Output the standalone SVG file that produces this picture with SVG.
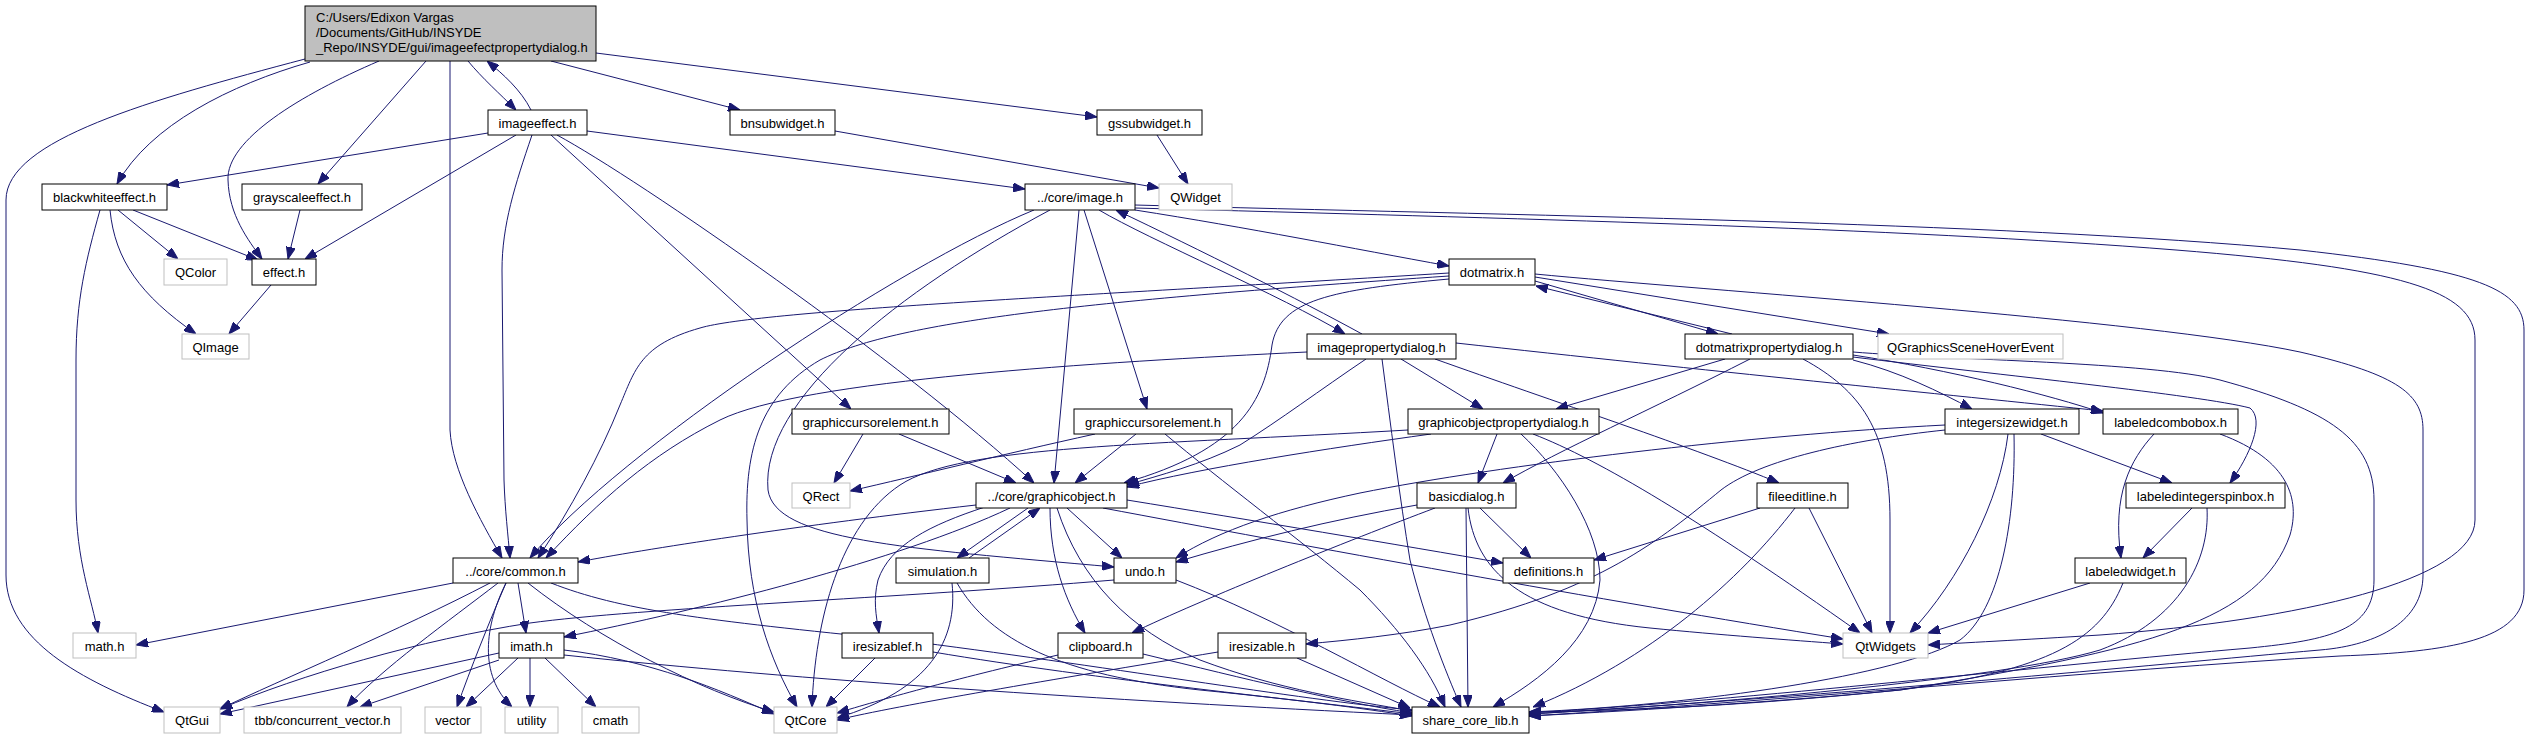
<svg xmlns="http://www.w3.org/2000/svg" width="2531" height="739" viewBox="0 0 2531 739">
<style>
.n rect{fill:#fff;stroke:#000;stroke-width:1}
.x rect{fill:#fff;stroke:#bfbfbf;stroke-width:1}
.r rect{fill:#bfbfbf;stroke:#000;stroke-width:1}
text{font-family:"Liberation Sans",Arial,Helvetica,sans-serif;font-size:13px;fill:#000}
.c{text-anchor:middle}
#edges path{fill:none;stroke:#191970;stroke-width:1;marker-end:url(#a)}
</style>
<defs>
<marker id="a" viewBox="0 0 12 9" refX="12" refY="4.5" markerWidth="12" markerHeight="9" markerUnits="userSpaceOnUse" orient="auto"><path d="M0,0 L12,4.5 L0,9 z" fill="#191970" stroke="#191970" stroke-width="1"/></marker>
</defs>
<rect width="2531" height="739" fill="#fff"/>
<g id="edges">
<path d="M468,61 C482,78 500,94 516,110"/>
<path d="M531,110 C521,90 503,74 487,61"/>
<path d="M310,62 C230,85 150,125 117,184"/>
<path d="M379,61 C300,95 226,140 228,180 C229,215 248,240 262,259"/>
<path d="M426,61 L318,184"/>
<path d="M450,61 L450,430 C452,470 480,520 502,558"/>
<path d="M551,61 L740,110"/>
<path d="M596,53 L1097,117"/>
<path d="M305,59 C150,100 6,140 6,200 L6,575 C6,640 80,680 164,712"/>
<path d="M835,131 L1159,188"/>
<path d="M1157,135 L1188,184"/>
<path d="M488,133 L167,185"/>
<path d="M516,135 L305,259"/>
<path d="M532,135 C515,185 502,225 502,270 L504,480 C505,510 508,535 510,558"/>
<path d="M551,135 L851,409"/>
<path d="M557,135 C640,180 900,360 1034,483"/>
<path d="M587,131 L1025,189"/>
<path d="M100,210 C86,260 76,300 76,360 L76,500 C76,560 92,600 98,633"/>
<path d="M110,210 C115,260 140,295 196,334"/>
<path d="M118,210 L178,259"/>
<path d="M133,210 L258,260"/>
<path d="M300,210 L288,259"/>
<path d="M271,285 L229,334"/>
<path d="M1135,210 C1250,228 1350,248 1449,266"/>
<path d="M1034,210 C900,265 620,450 530,558"/>
<path d="M1050,210 C900,290 760,400 768,490 C775,540 900,548 1114,567"/>
<path d="M1079,210 L1054,483"/>
<path d="M1084,210 L1147,409"/>
<path d="M1099,210 C1150,240 1280,295 1345,334"/>
<path d="M1362,334 C1300,300 1200,250 1116,210"/>
<path d="M1135,205 C1500,215 2000,222 2300,250 C2480,270 2524,290 2524,330 L2524,590 C2524,640 2450,652 2340,656 C2100,670 1800,700 1529,716"/>
<path d="M1135,208 C1500,218 1900,228 2176,250 C2400,268 2475,290 2475,340 L2475,520 C2475,580 2300,620 2100,635 C2020,640 1960,643 1928,645"/>
<path d="M1535,281 L1718,334"/>
<path d="M1732,334 L1536,286"/>
<path d="M1535,277 L1889,334"/>
<path d="M1535,274 C1700,290 2150,320 2300,352 C2400,375 2423,395 2423,430 L2423,575 C2423,620 2380,645 2320,650 C2150,665 1850,695 1529,714"/>
<path d="M1449,273 C1100,295 760,310 700,328 C640,345 635,370 620,405 C600,455 570,510 538,558"/>
<path d="M1449,276 C1100,300 900,320 820,360 C760,395 745,450 747,520 C748,600 770,660 797,707"/>
<path d="M1449,279 C1330,290 1280,300 1272,345 C1265,400 1240,450 1124,483"/>
<path d="M1307,352 C1100,362 800,380 720,420 C650,455 600,500 546,558"/>
<path d="M1366,359 C1320,390 1280,420 1240,445 C1200,465 1160,475 1127,485"/>
<path d="M1382,359 C1390,420 1400,500 1410,560 C1425,620 1445,670 1461,707"/>
<path d="M1401,359 L1483,409"/>
<path d="M1435,359 C1550,400 1700,450 1779,483"/>
<path d="M1456,343 C1700,370 1950,395 2103,411"/>
<path d="M1725,359 L1556,409"/>
<path d="M1750,359 C1650,410 1560,450 1503,483"/>
<path d="M1803,359 C1860,390 1890,430 1890,520 L1890,633"/>
<path d="M1853,352 C1950,360 2150,362 2220,380 C2330,410 2374,440 2374,500 L2374,580 C2374,630 2330,640 2250,648 C2050,665 1750,700 1529,713"/>
<path d="M1853,355 C1950,370 2050,395 2103,413"/>
<path d="M1853,360 C1900,372 1940,392 1972,409"/>
<path d="M1853,357 C2000,375 2200,395 2250,408 C2265,420 2250,455 2230,483"/>
<path d="M2041,434 L2172,483"/>
<path d="M2008,434 C2000,500 1960,580 1910,633"/>
<path d="M2014,434 C2016,520 2000,610 1960,640 C1900,675 1700,705 1529,712"/>
<path d="M1945,425 C1750,435 1500,465 1360,493 C1280,510 1220,530 1176,558"/>
<path d="M1945,430 C1850,440 1760,460 1721,490 C1660,540 1600,590 1450,625 C1400,635 1350,640 1306,644"/>
<path d="M2154,434 C2130,460 2112,495 2121,558"/>
<path d="M2220,434 C2290,460 2300,500 2290,535 C2260,620 2150,650 1900,690 C1800,700 1650,710 1529,716"/>
<path d="M2192,508 L2143,558"/>
<path d="M2207,508 C2210,560 2180,620 2100,650 C2000,680 1700,705 1529,714"/>
<path d="M2090,583 L1928,633"/>
<path d="M2123,583 C2100,640 2050,670 1900,690 C1750,705 1650,710 1529,712"/>
<path d="M1760,508 L1594,560"/>
<path d="M1795,508 C1740,580 1650,660 1533,707"/>
<path d="M1809,508 L1872,633"/>
<path d="M1480,508 L1531,558"/>
<path d="M1466,508 L1468,707"/>
<path d="M1468,508 C1475,570 1520,615 1650,628 C1720,635 1790,640 1843,644"/>
<path d="M1417,505 C1330,520 1250,540 1176,562"/>
<path d="M1435,508 C1350,540 1200,600 1132,633"/>
<path d="M1497,434 L1478,483"/>
<path d="M1521,434 C1560,470 1600,530 1600,580 C1595,640 1540,680 1493,707"/>
<path d="M1533,434 C1600,460 1700,520 1860,633"/>
<path d="M1431,434 C1330,448 1200,468 1127,487"/>
<path d="M1408,430 C1150,445 960,445 900,485 C840,525 815,620 812,707"/>
<path d="M976,505 C800,525 640,550 578,562"/>
<path d="M1010,508 C900,560 700,610 564,637"/>
<path d="M1028,508 L957,558"/>
<path d="M969,558 L1040,508"/>
<path d="M985,507 C930,525 890,545 878,580 C873,600 876,615 879,633"/>
<path d="M1067,508 L1122,558"/>
<path d="M1050,508 C1050,560 1065,600 1085,633"/>
<path d="M1057,508 C1080,580 1130,630 1200,660 C1280,690 1350,700 1412,711"/>
<path d="M1103,508 C1300,545 1600,600 1843,639"/>
<path d="M1127,500 C1250,520 1400,545 1503,563"/>
<path d="M863,434 L834,483"/>
<path d="M899,434 L1016,483"/>
<path d="M1095,434 C1000,455 920,475 850,491"/>
<path d="M1136,434 L1075,483"/>
<path d="M1165,434 C1220,480 1300,540 1360,590 C1400,630 1430,670 1445,707"/>
<path d="M952,583 C958,640 930,690 837,718"/>
<path d="M957,583 C990,640 1060,675 1200,690 C1300,700 1360,708 1412,716"/>
<path d="M1114,580 C900,598 640,608 530,623 C420,640 300,675 220,709"/>
<path d="M1176,580 C1280,620 1380,680 1440,707"/>
<path d="M875,658 L826,707"/>
<path d="M933,652 C1100,680 1300,700 1412,714"/>
<path d="M1058,655 C950,680 880,700 837,713"/>
<path d="M1143,654 C1250,680 1330,700 1412,713"/>
<path d="M1218,652 C1050,680 900,705 837,720"/>
<path d="M1297,658 L1410,708"/>
<path d="M453,583 L136,645"/>
<path d="M490,583 C400,630 280,680 220,709"/>
<path d="M498,583 C450,620 380,670 347,707"/>
<path d="M506,583 C490,620 470,670 457,707"/>
<path d="M506,583 C485,625 478,675 512,707"/>
<path d="M518,583 L526,633"/>
<path d="M528,583 C600,640 700,690 774,712"/>
<path d="M551,583 C620,610 700,620 900,640 C1100,665 1300,700 1412,710"/>
<path d="M499,653 L220,714"/>
<path d="M499,660 L360,707"/>
<path d="M518,658 L466,707"/>
<path d="M530,658 L530,707"/>
<path d="M545,658 L596,707"/>
<path d="M564,650 C650,660 720,690 774,714"/>
<path d="M564,655 C800,680 1100,700 1412,715"/>
</g>
<g id="n_root" class="r"><rect x="305" y="6" width="291" height="55"/><text x="316" y="21.5">C:/Users/Edixon Vargas</text><text x="316" y="36.5">/Documents/GitHub/INSYDE</text><text x="316" y="51.5">_Repo/INSYDE/gui/imageefectpropertydialog.h</text></g>
<g id="n_imageeffect" class="n"><rect x="488" y="110" width="99" height="25"/><text class="c" x="537.5" y="127.5">imageeffect.h</text></g>
<g id="n_bnsubwidget" class="n"><rect x="730" y="110" width="105" height="25"/><text class="c" x="782.5" y="127.5">bnsubwidget.h</text></g>
<g id="n_gssubwidget" class="n"><rect x="1097" y="110" width="105" height="25"/><text class="c" x="1149.5" y="127.5">gssubwidget.h</text></g>
<g id="n_blackwhiteeffect" class="n"><rect x="42" y="184" width="125" height="26"/><text class="c" x="104.5" y="202">blackwhiteeffect.h</text></g>
<g id="n_grayscaleeffect" class="n"><rect x="242" y="184" width="120" height="26"/><text class="c" x="302" y="202">grayscaleeffect.h</text></g>
<g id="n_image" class="n"><rect x="1025" y="184" width="110" height="26"/><text class="c" x="1080" y="202">../core/image.h</text></g>
<g id="n_qwidget" class="x"><rect x="1159" y="184" width="73" height="26"/><text class="c" x="1195.5" y="202">QWidget</text></g>
<g id="n_qcolor" class="x"><rect x="164" y="259" width="63" height="26"/><text class="c" x="195.5" y="277">QColor</text></g>
<g id="n_effect" class="n"><rect x="252" y="259" width="64" height="26"/><text class="c" x="284" y="277">effect.h</text></g>
<g id="n_dotmatrix" class="n"><rect x="1449" y="259" width="86" height="26"/><text class="c" x="1492" y="277">dotmatrix.h</text></g>
<g id="n_qimage" class="x"><rect x="182" y="334" width="67" height="25"/><text class="c" x="215.5" y="351.5">QImage</text></g>
<g id="n_imagepropertydialog" class="n"><rect x="1307" y="334" width="149" height="25"/><text class="c" x="1381.5" y="351.5">imagepropertydialog.h</text></g>
<g id="n_dotmatrixpropertydialog" class="n"><rect x="1685" y="334" width="168" height="25"/><text class="c" x="1769" y="351.5">dotmatrixpropertydialog.h</text></g>
<g id="n_qgraphicsscenehoverevent" class="x"><rect x="1878" y="334" width="185" height="25"/><text class="c" x="1970.5" y="351.5">QGraphicsSceneHoverEvent</text></g>
<g id="n_graphiccursorelement_gui" class="n"><rect x="792" y="409" width="157" height="25"/><text class="c" x="870.5" y="426.5">graphiccursorelement.h</text></g>
<g id="n_graphiccursorelement_core" class="n"><rect x="1074" y="409" width="158" height="25"/><text class="c" x="1153" y="426.5">graphiccursorelement.h</text></g>
<g id="n_graphicobjectpropertydialog" class="n"><rect x="1408" y="409" width="191" height="25"/><text class="c" x="1503.5" y="426.5">graphicobjectpropertydialog.h</text></g>
<g id="n_integersizewidget" class="n"><rect x="1945" y="409" width="134" height="25"/><text class="c" x="2012" y="426.5">integersizewidget.h</text></g>
<g id="n_labeledcombobox" class="n"><rect x="2103" y="409" width="135" height="25"/><text class="c" x="2170.5" y="426.5">labeledcombobox.h</text></g>
<g id="n_qrect" class="x"><rect x="792" y="483" width="58" height="25"/><text class="c" x="821" y="500.5">QRect</text></g>
<g id="n_graphicobject" class="n"><rect x="976" y="483" width="151" height="25"/><text class="c" x="1051.5" y="500.5">../core/graphicobject.h</text></g>
<g id="n_basicdialog" class="n"><rect x="1417" y="483" width="99" height="25"/><text class="c" x="1466.5" y="500.5">basicdialog.h</text></g>
<g id="n_fileeditline" class="n"><rect x="1757" y="483" width="91" height="25"/><text class="c" x="1802.5" y="500.5">fileeditline.h</text></g>
<g id="n_labeledintegerspinbox" class="n"><rect x="2126" y="483" width="159" height="25"/><text class="c" x="2205.5" y="500.5">labeledintegerspinbox.h</text></g>
<g id="n_common" class="n"><rect x="453" y="558" width="125" height="25"/><text class="c" x="515.5" y="575.5">../core/common.h</text></g>
<g id="n_simulation" class="n"><rect x="896" y="558" width="93" height="25"/><text class="c" x="942.5" y="575.5">simulation.h</text></g>
<g id="n_undo" class="n"><rect x="1114" y="558" width="62" height="25"/><text class="c" x="1145" y="575.5">undo.h</text></g>
<g id="n_definitions" class="n"><rect x="1503" y="558" width="91" height="25"/><text class="c" x="1548.5" y="575.5">definitions.h</text></g>
<g id="n_labeledwidget" class="n"><rect x="2075" y="558" width="111" height="25"/><text class="c" x="2130.5" y="575.5">labeledwidget.h</text></g>
<g id="n_math" class="x"><rect x="73" y="633" width="63" height="25"/><text class="c" x="104.5" y="650.5">math.h</text></g>
<g id="n_imath" class="n"><rect x="499" y="633" width="65" height="25"/><text class="c" x="531.5" y="650.5">imath.h</text></g>
<g id="n_iresizablef" class="n"><rect x="842" y="633" width="91" height="25"/><text class="c" x="887.5" y="650.5">iresizablef.h</text></g>
<g id="n_clipboard" class="n"><rect x="1058" y="633" width="85" height="25"/><text class="c" x="1100.5" y="650.5">clipboard.h</text></g>
<g id="n_iresizable" class="n"><rect x="1218" y="633" width="88" height="25"/><text class="c" x="1262" y="650.5">iresizable.h</text></g>
<g id="n_qtwidgets" class="x"><rect x="1843" y="633" width="85" height="25"/><text class="c" x="1885.5" y="650.5">QtWidgets</text></g>
<g id="n_qtgui" class="x"><rect x="164" y="707" width="56" height="26"/><text class="c" x="192" y="725">QtGui</text></g>
<g id="n_tbb" class="x"><rect x="244" y="707" width="157" height="26"/><text class="c" x="322.5" y="725">tbb/concurrent_vector.h</text></g>
<g id="n_vector" class="x"><rect x="425" y="707" width="56" height="26"/><text class="c" x="453" y="725">vector</text></g>
<g id="n_utility" class="x"><rect x="505" y="707" width="53" height="26"/><text class="c" x="531.5" y="725">utility</text></g>
<g id="n_cmath" class="x"><rect x="582" y="707" width="57" height="26"/><text class="c" x="610.5" y="725">cmath</text></g>
<g id="n_qtcore" class="x"><rect x="774" y="707" width="63" height="26"/><text class="c" x="805.5" y="725">QtCore</text></g>
<g id="n_share_core_lib" class="n"><rect x="1412" y="707" width="117" height="26"/><text class="c" x="1470.5" y="725">share_core_lib.h</text></g>
</svg>
